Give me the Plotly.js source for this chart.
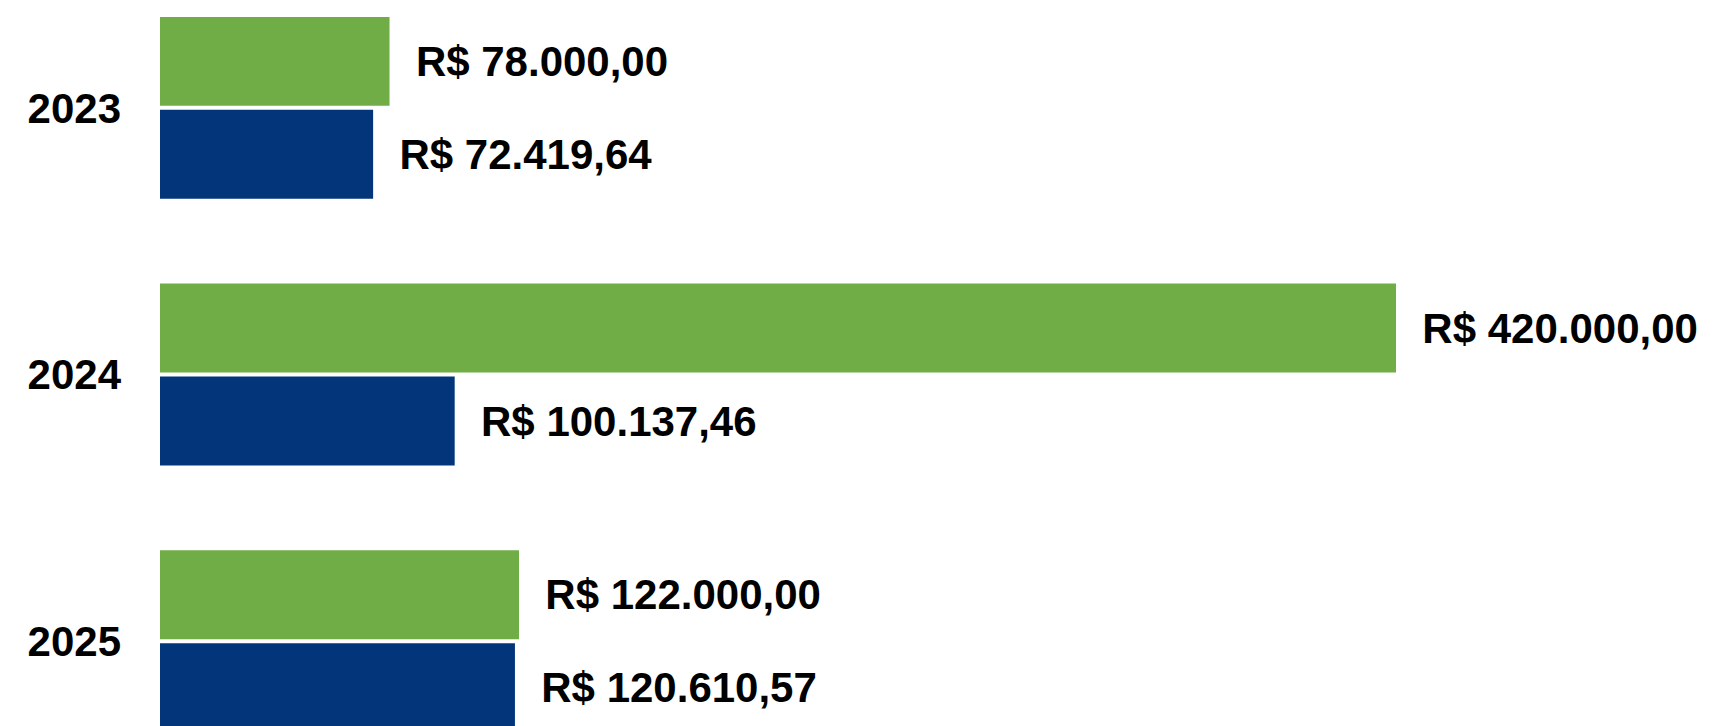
<!DOCTYPE html>
<html>
<head>
<meta charset="utf-8">
<script src="https://cdn.plot.ly/plotly-3.0.1.min.js"></script>
<style>
html,body{margin:0;padding:0;background:#fff;}
#chart{width:1715px;height:726px;}
</style>
</head>
<body>
<div id="chart"></div>
<script>
var years = ['2023', '2024', '2025'];
var greenValues = [78000.00, 420000.00, 122000.00];
var blueValues = [72419.64, 100137.46, 120610.57];

function fmtBRL(v) {
  var parts = v.toFixed(2).split('.');
  var intPart = parts[0].replace(/\B(?=(\d{3})+(?!\d))/g, '.');
  return '\u00a0\u00a0R$ ' + intPart + ',' + parts[1];
}

var labelFont = {family: 'Liberation Sans, Arial, sans-serif', size: 42, color: '#000000', weight: 'bold'};

var traces = [
  {
    type: 'bar', orientation: 'h', name: 'green',
    y: years, x: greenValues,
    marker: {color: '#70AD47'},
    text: greenValues.map(fmtBRL),
    textposition: 'outside', textfont: labelFont,
    constraintext: 'none', cliponaxis: false,
    hoverinfo: 'none'
  },
  {
    type: 'bar', orientation: 'h', name: 'blue',
    y: years, x: blueValues,
    marker: {color: '#03357A'},
    text: blueValues.map(fmtBRL),
    textposition: 'outside', textfont: labelFont,
    constraintext: 'none', cliponaxis: false,
    hoverinfo: 'none'
  }
];

var layout = {
  width: 1715, height: 726,
  margin: {l: 160, r: 0, t: 0, b: 0, pad: 0},
  paper_bgcolor: '#ffffff', plot_bgcolor: '#ffffff',
  showlegend: false,
  barmode: 'group',
  bargap: 0.303,
  bargroupgap: 0.043,
  xaxis: {
    range: [0, 528400],
    visible: false, showgrid: false, zeroline: false
  },
  yaxis: {
    type: 'category',
    range: [2.318, -0.4045],
    showgrid: false, zeroline: false, showline: false,
    ticks: '', ticklabelstandoff: 38,
    tickfont: {family: 'Liberation Sans, Arial, sans-serif', size: 42, color: '#000000', weight: 'bold'}
  }
};

Plotly.newPlot('chart', traces, layout, {displayModeBar: false, staticPlot: true});
</script>
</body>
</html>
